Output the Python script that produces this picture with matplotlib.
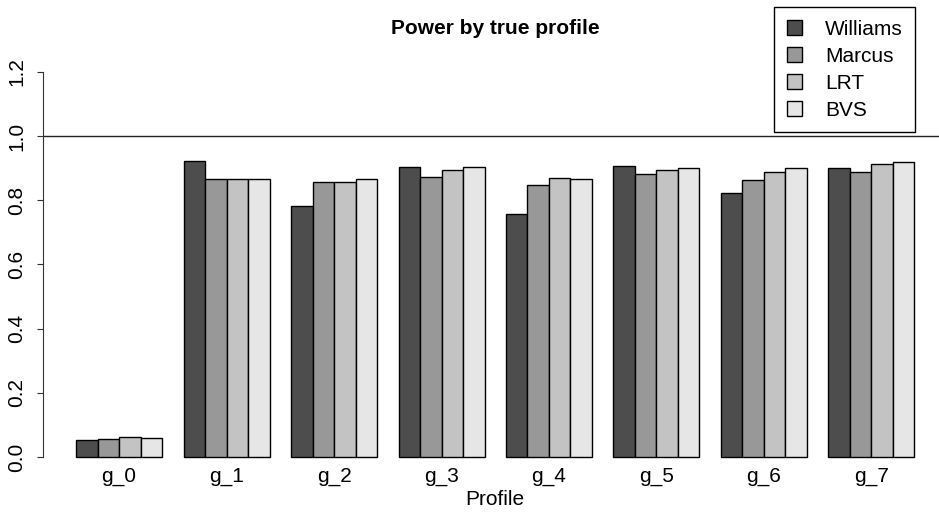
import numpy as np
import matplotlib
matplotlib.use('Agg')
import matplotlib.pyplot as plt
from matplotlib.patches import Patch

plt.rcParams['font.family'] = ['Liberation Sans', 'DejaVu Sans']

profiles = ['g_0', 'g_1', 'g_2', 'g_3', 'g_4', 'g_5', 'g_6', 'g_7']
methods = ['Williams', 'Marcus', 'LRT', 'BVS']
williams = [0.053, 0.922, 0.782, 0.904, 0.758, 0.907, 0.821, 0.899]
marcus = [0.057, 0.865, 0.856, 0.871, 0.846, 0.882, 0.863, 0.889]
lrt = [0.061, 0.867, 0.856, 0.893, 0.868, 0.895, 0.888, 0.912]
bvs = [0.060, 0.866, 0.866, 0.902, 0.865, 0.901, 0.899, 0.919]
colors = ['#4D4D4D', '#989898', '#C3C3C3', '#E6E6E6']

power = np.array([williams, marcus, lrt, bvs])
fs = 15

fig = plt.figure(figsize=(9.39, 5.12), dpi=100)
ax = fig.add_axes([42.5/939, 1-472.4/512, (948-42.5)/939, (472.4-56.4)/512])

# grouped bars, one bar gap between groups (R barplot beside=TRUE style)
ngrp = len(profiles)
for k in range(len(methods)):
    x = np.arange(ngrp)*5 + 1 + k
    ax.bar(x, power[k], width=1, align='edge', color=colors[k],
           edgecolor='black', linewidth=1)

ax.axhline(1.0, color='#222222', lw=1)

ax.set_xlim(-0.56, 41.56)
ax.set_ylim(-0.048, 1.248)
for s in ['top', 'right', 'bottom']:
    ax.spines[s].set_visible(False)
ax.spines['left'].set_bounds(0, 1.2)
ax.spines['left'].set_color('#333333')

yt = [0.0, 0.2, 0.4, 0.6, 0.8, 1.0, 1.2]
ax.set_yticks(yt)
ax.set_yticklabels(['%.1f' % v for v in yt], rotation=90, va='center', fontsize=fs)
ax.tick_params(axis='y', length=4.5, pad=7, color='#333333')

ax.set_xticks(np.arange(ngrp)*5 + 3)
ax.set_xticklabels(profiles, fontsize=fs)
ax.tick_params(axis='x', length=0, pad=-4)
ax.set_xlabel('Profile', fontsize=fs, labelpad=3)

ax.set_title('Power by true profile', fontsize=fs, fontweight='bold', pad=16)

handles = [Patch(facecolor=c, edgecolor='black', linewidth=1) for c in colors]
leg = fig.legend(handles, methods, loc='upper right',
                 bbox_to_anchor=(915.3/939, 1-7.3/512), fontsize=fs,
                 fancybox=False, edgecolor='black', framealpha=1,
                 handlelength=0.75, handleheight=0.75, handletextpad=1.1,
                 labelspacing=0.38, borderpad=0.6, borderaxespad=0)
leg.get_frame().set_linewidth(1)

fig.savefig('out.png', dpi=100)
